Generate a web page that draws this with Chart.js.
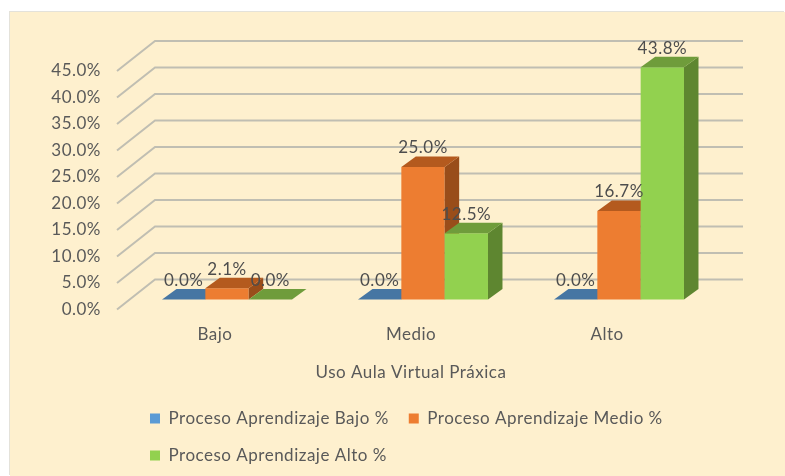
<!DOCTYPE html>
<html><head><meta charset="utf-8">
<style>
html,body{margin:0;padding:0;background:#fff;width:785px;height:476px;overflow:hidden}
#card{position:absolute;left:10px;top:12px;width:775px;height:464px;background:#FEF0CE;box-shadow:-1px -1px 0 #e4e2da}
canvas{position:absolute;left:0;top:0}
</style>
<script src="https://cdn.jsdelivr.net/npm/chart.js@4/dist/chart.umd.min.js"></script>
</head><body>
<div id="card"></div>
<canvas id="c" width="785" height="476"></canvas>
<script>
const categories = ["Bajo","Medio","Alto"];
const seriesNames = ["Proceso Aprendizaje Bajo %","Proceso Aprendizaje Medio %","Proceso Aprendizaje Alto %"];
const bajoValues = [0,0,0];
const medioValues = [2.1,25,16.7];
const altoValues = [0,12.5,43.8];
const axisTitle = "Uso Aula Virtual Práxica";

const FONT = "Lato";
const SIZE = 17;
const SPACING = "0.5px";
const TEXT = "#595959";
const wall = {dx:38, dy:30};            // front plane to back wall
const barPlane = {dx:12, dy:10};        // front plane to the plane of the bars
const barDepth = {dx:14.5, dy:10.5};
const styles = [
  {front:"#5B9BD5", top:"#4676A3", side:"#3A6589"},
  {front:"#ED7D31", top:"#B45A1E", side:"#994D1A"},
  {front:"#92D14F", top:"#6F9C3B", side:"#5E8630"}
];

const threeD = {
  id:"threeD",
  beforeUpdate(chart){ chart.ctx.letterSpacing = SPACING; },
  beforeDraw(chart){ chart.ctx.letterSpacing = SPACING; },
  beforeDatasetDraw(){ return false; },   // bars are painted left to right below
  beforeDatasetsDraw(chart){
    const {ctx, scales:{y}, chartArea:a} = chart;
    ctx.save();
    ctx.strokeStyle = "#C0BEB2";
    ctx.lineWidth = 2;
    y.ticks.forEach(t=>{
      const py = y.getPixelForValue(t.value);
      ctx.beginPath();
      ctx.moveTo(a.left, py);
      ctx.lineTo(a.left+wall.dx, py-wall.dy);
      ctx.lineTo(a.right+wall.dx, py-wall.dy);
      ctx.stroke();
    });
    ctx.restore();
  },
  afterDatasetsDraw(chart){
    const {ctx} = chart;
    const {dx, dy} = barDepth;
    ctx.save();
    ctx.translate(barPlane.dx, -barPlane.dy);
    chart.data.datasets.forEach((ds,i)=>{
      const meta = chart.getDatasetMeta(i);
      const st = styles[i];
      meta.controller.draw();
      meta.data.forEach(b=>{
        const {x, y, base, width} = b.getProps(["x","y","base","width"], true);
        const l = x-width/2, r = x+width/2;
        ctx.fillStyle = st.side;
        ctx.beginPath();
        ctx.moveTo(r,base); ctx.lineTo(r+dx,base-dy); ctx.lineTo(r+dx,y-dy); ctx.lineTo(r,y);
        ctx.closePath(); ctx.fill();
        ctx.fillStyle = st.top;
        ctx.beginPath();
        ctx.moveTo(l,y); ctx.lineTo(r,y); ctx.lineTo(r+dx,y-dy); ctx.lineTo(l+dx,y-dy);
        ctx.closePath(); ctx.fill();
      });
    });
    ctx.font = SIZE+"px "+FONT;
    ctx.fillStyle = "#4D4D4D";
    ctx.textAlign = "center";
    ctx.textBaseline = "middle";
    chart.data.datasets.forEach((ds,i)=>{
      chart.getDatasetMeta(i).data.forEach((b,j)=>{
        ctx.fillText(ds.data[j].toFixed(1)+"%", b.x, b.y-19);
      });
    });
    ctx.restore();
  },
  afterLayout(chart){
    const lg = chart.legend;
    const w = lg.right-lg.left;
    lg.left = 130; lg.right = lg.left+w;
    lg.top = 390; lg.bottom = lg.top+lg.height;
  }
};

const dataSeries = [bajoValues, medioValues, altoValues];
new Chart(document.getElementById("c"),{
  type:"bar",
  data:{
    labels:categories,
    datasets:dataSeries.map((v,i)=>({
      label:seriesNames[i], data:v,
      backgroundColor:styles[i].front, borderWidth:0,
      categoryPercentage:0.663, barPercentage:1
    }))
  },
  options:{
    responsive:false, animation:false,
    layout:{padding:{left:0,right:80,top:71,bottom:0}},
    scales:{
      x:{
        grid:{display:false}, border:{display:false},
        ticks:{color:TEXT,font:{family:FONT,size:SIZE},padding:7,maxRotation:0},
        title:{display:true,text:axisTitle,color:TEXT,font:{family:FONT,size:SIZE},padding:{top:14,bottom:9}},
        afterFit(s){ s.height = 166.5-s.chart.legend.height; }
      },
      y:{
        min:0,max:45,
        grid:{display:false,drawTicks:false}, border:{display:false},
        ticks:{stepSize:5,color:TEXT,font:{family:FONT,size:SIZE},padding:16,callback:v=>v.toFixed(1)+"%"},
        afterFit(s){ s.width = 117; }
      }
    },
    plugins:{
      tooltip:{enabled:false},
      legend:{
        position:"bottom", align:"start",
        labels:{boxWidth:10,boxHeight:10,color:TEXT,font:{family:FONT,size:SIZE},padding:20}
      }
    }
  },
  plugins:[threeD]
});
</script>
</body></html>
